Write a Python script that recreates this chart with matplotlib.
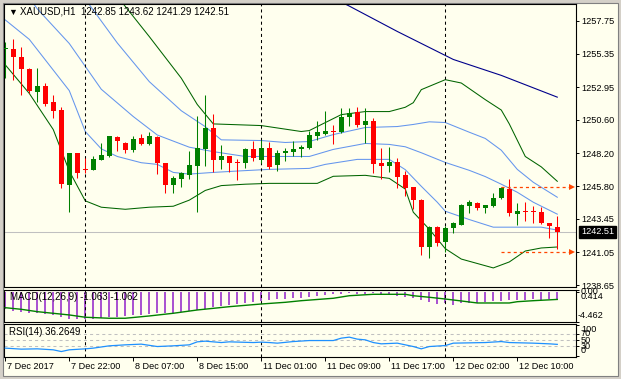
import numpy as np
import matplotlib
matplotlib.use('Agg')
import matplotlib.pyplot as plt
import matplotlib.transforms as mtransforms
from matplotlib.patches import Rectangle

plt.rcParams['font.family'] = ['Liberation Sans', 'DejaVu Sans']
plt.rcParams['lines.scale_dashes'] = False

# ---- XAUUSD H1 candles, 7 Dec 14:00 .. 12 Dec 15:00 (70 bars) ----
opens = [1255.68, 1255.71, 1255.16, 1254.27, 1252.57, 1253.05, 1251.90, 1251.33, 1245.89, 1248.17,
         1247.01, 1246.97, 1247.69, 1247.98, 1249.34, 1248.89, 1248.41, 1249.25, 1248.82, 1249.34,
         1247.45, 1245.89, 1246.30, 1246.61, 1247.26, 1248.51, 1249.97, 1247.69, 1247.98, 1247.52,
         1247.45, 1248.46, 1247.69, 1248.53, 1247.31, 1248.17, 1248.26, 1248.46, 1248.58, 1249.46,
         1249.60, 1249.79, 1249.70, 1250.81, 1251.16, 1250.25, 1250.54, 1247.45, 1247.26, 1247.54,
         1246.59, 1245.75, 1244.81, 1241.44, 1242.87, 1241.80, 1242.76, 1243.02, 1244.38, 1244.58,
         1244.22, 1244.38, 1244.93, 1245.58, 1243.79, 1244.03, 1243.99, 1243.98, 1243.14, 1242.85]
highs = [1256.21, 1256.43, 1255.83, 1254.33, 1254.33, 1253.25, 1252.41, 1251.49, 1248.20, 1248.20,
         1247.86, 1248.00, 1248.89, 1249.45, 1249.40, 1248.98, 1249.41, 1249.58, 1249.70, 1249.40,
         1247.50, 1246.54, 1246.80, 1248.33, 1250.90, 1252.35, 1251.04, 1248.81, 1248.00, 1247.74,
         1248.58, 1249.05, 1249.17, 1248.98, 1248.41, 1248.58, 1249.05, 1248.81, 1249.77, 1250.54,
         1251.21, 1250.25, 1251.45, 1251.45, 1251.52, 1251.45, 1250.73, 1248.58, 1248.65, 1247.86,
         1246.90, 1245.78, 1244.85, 1242.90, 1242.90, 1242.95, 1243.19, 1244.50, 1244.81, 1244.63,
         1244.47, 1245.35, 1245.75, 1246.30, 1244.57, 1244.67, 1244.38, 1244.27, 1243.15, 1243.62]
lows = [1253.63, 1253.49, 1252.41, 1252.53, 1251.85, 1251.62, 1250.73, 1245.70, 1243.91, 1246.37,
        1246.78, 1246.97, 1247.69, 1247.90, 1248.33, 1248.22, 1248.26, 1248.76, 1248.76, 1246.66,
        1245.35, 1245.35, 1245.78, 1246.30, 1243.91, 1247.26, 1246.83, 1247.02, 1246.83, 1246.25,
        1247.14, 1247.62, 1247.50, 1247.07, 1246.90, 1247.62, 1248.02, 1247.93, 1248.51, 1249.12,
        1249.53, 1248.82, 1249.66, 1250.13, 1250.06, 1248.89, 1246.78, 1246.35, 1246.83, 1245.70,
        1245.10, 1244.15, 1240.84, 1240.63, 1241.51, 1241.08, 1242.42, 1243.00, 1243.86, 1244.07,
        1243.86, 1244.30, 1244.90, 1243.62, 1243.02, 1243.26, 1243.14, 1243.10, 1242.06, 1241.29]
closes = [1255.75, 1255.12, 1254.25, 1252.64, 1253.05, 1251.76, 1251.21, 1245.99, 1248.17, 1246.73,
          1246.97, 1247.74, 1248.05, 1249.41, 1249.05, 1248.41, 1249.22, 1248.82, 1249.41, 1247.45,
          1245.89, 1246.37, 1246.78, 1247.31, 1248.53, 1249.97, 1247.69, 1247.98, 1247.45, 1247.48,
          1248.46, 1247.81, 1248.53, 1247.21, 1248.22, 1248.33, 1248.51, 1248.60, 1249.53, 1249.70,
          1249.77, 1249.75, 1250.81, 1251.09, 1250.25, 1250.54, 1247.43, 1247.26, 1247.54, 1246.49,
          1245.70, 1244.79, 1241.44, 1242.87, 1241.68, 1242.78, 1243.12, 1244.45, 1244.63, 1244.22,
          1244.45, 1244.93, 1245.70, 1243.86, 1244.02, 1243.98, 1243.96, 1243.12, 1242.95, 1242.51]

# indicator lines: (bar, value)
bb_lower_bars = [0, 3, 8, 10, 12, 14, 17, 19, 21, 23, 26, 29, 33, 38, 40, 44, 48, 50, 52, 54, 55, 58, 61, 64, 67, 69]
bb_lower_vals = [1257.80, 1256.40, 1252.70, 1249.75, 1248.50, 1247.95, 1247.50, 1247.38, 1246.80, 1246.68,
                 1246.80, 1246.90, 1247.02, 1247.09, 1247.38, 1247.74, 1247.74, 1247.00, 1245.80, 1244.65,
                 1244.00, 1243.40, 1242.85, 1242.85, 1242.85, 1242.64]
bb_mid_bars = [3, 4, 8, 12, 16, 19, 23, 26, 30, 35, 38, 41, 45, 48, 50, 52, 55, 58, 60, 62, 64, 66, 69]
bb_mid_vals = [1259.40, 1258.60, 1256.10, 1252.80, 1250.83, 1249.50, 1248.62, 1248.30, 1247.95, 1247.95,
               1247.95, 1248.46, 1248.89, 1248.82, 1248.65, 1248.22, 1247.52, 1246.95, 1246.50, 1245.95,
               1245.37, 1244.65, 1243.79]
bb_upper_bars = [10, 14, 18, 22, 25, 27, 32, 35, 38, 41, 45, 49, 51, 53, 55, 58, 60, 62, 64, 66, 69]
bb_upper_vals = [1259.30, 1256.14, 1253.35, 1251.25, 1250.10, 1249.15, 1249.10, 1248.96, 1249.03, 1249.53,
                 1250.04, 1250.11, 1250.26, 1250.45, 1250.40, 1249.70, 1249.25, 1248.40, 1247.02, 1246.09,
                 1245.01]
env_upper_bars = [14, 18, 22, 24, 26, 32, 37, 38, 42, 45, 48, 50, 51, 52, 55, 57, 60, 62, 63, 65, 67, 69]
env_upper_vals = [1259.50, 1256.60, 1253.60, 1251.70, 1250.30, 1250.18, 1249.75, 1249.82, 1250.97, 1251.19,
                  1251.19, 1251.50, 1251.83, 1252.77, 1253.49, 1253.25, 1252.05, 1251.30, 1250.30, 1247.95,
                  1247.20, 1246.16]
env_lower_bars = [0, 3, 6, 8, 10, 12, 15, 18, 21, 23, 25, 27, 30, 33, 39, 41, 45, 48, 50, 51, 53, 55, 57,
                  61, 63, 65, 67, 69]
env_lower_vals = [1254.56, 1252.50, 1249.89, 1246.90, 1244.75, 1244.29, 1244.14, 1244.29, 1244.36, 1244.80,
                  1245.50, 1245.85, 1245.95, 1246.01, 1246.01, 1246.52, 1246.59, 1246.37, 1245.60, 1243.93,
                  1242.70, 1241.30, 1240.55, 1239.91, 1240.34, 1241.13, 1241.35, 1241.42]
ma_slow_bars = [40, 43, 49, 56, 62, 69]
ma_slow_vals = [1259.67, 1258.80, 1256.97, 1254.95, 1253.80, 1252.23]

level_prices = [1245.75, 1241.08]
level_start = 62

macd_hist = [-2.52, -2.72, -2.87, -3.02, -3.12, -3.27, -3.42, -3.61, -3.91, -4.01,
             -4.01, -3.96, -3.86, -3.71, -3.61, -3.51, -3.42, -3.32, -3.22, -3.12,
             -3.12, -3.02, -2.92, -2.77, -2.62, -2.43, -2.23, -2.03, -1.88, -1.73,
             -1.53, -1.39, -1.24, -1.14, -1.04, -0.99, -0.89, -0.79, -0.64, -0.50,
             -0.40, -0.30, -0.20, -0.10, -0.25, -0.25, -0.15, -0.40, -0.45, -0.54,
             -0.64, -0.89, -1.14, -1.49, -1.73, -1.53, -1.88, -1.63, -1.53, -1.63,
             -1.44, -1.34, -1.24, -1.19, -1.14, -1.14, -1.04, -1.14, -1.04, -1.063]
macd_sig_bars = [0, 2, 4, 8, 10, 13, 15, 18, 21, 24, 28, 32, 35, 37, 41, 43, 46, 50, 51, 53, 55, 57, 59,
                 63, 64, 66, 69]
macd_sig_vals = [-2.29, -2.53, -2.88, -3.37, -3.71, -3.86, -3.86, -3.52, -3.12, -2.63, -2.14, -1.74, -1.49,
                 -1.25, -0.89, -0.51, -0.30, -0.30, -0.51, -0.74, -1.00, -1.29, -1.59, -1.59, -1.40, -1.25,
                 -1.062]

rsi_bars = [0, 2, 4, 6, 7, 8, 10, 11, 13, 15, 17, 19, 21, 23, 24, 25, 27, 28, 31, 32, 33, 34, 36, 38, 41,
            42, 43, 44, 45, 46, 47, 49, 50, 51, 52, 53, 55, 56, 60, 62, 63, 66, 68, 69]
rsi_vals = [24.0, 20.7, 21.7, 18.5, 12.9, 18.5, 21.7, 24.0, 31.5, 34.7, 37.0, 29.2, 31.5, 34.7, 44.5,
            46.7, 42.2, 44.5, 42.2, 43.5, 42.2, 40.2, 45.4, 48.7, 48.7, 56.5, 59.8, 53.3, 51.0, 42.2,
            38.0, 40.2, 34.7, 29.2, 21.7, 29.2, 32.4, 40.2, 42.2, 45.4, 42.2, 40.2, 38.0, 36.26]
rsi_levels = [70, 50, 30]

price_ticks = [1257.75, 1255.35, 1252.95, 1250.60, 1248.20, 1245.80, 1243.45, 1241.05, 1238.65]
date_ticks = [0, 8, 16, 24, 32, 40, 48, 56, 64]
date_labels = ['7 Dec 2017', '7 Dec 22:00', '8 Dec 07:00', '8 Dec 15:00', '11 Dec 01:00',
               '11 Dec 09:00', '11 Dec 17:00', '12 Dec 02:00', '12 Dec 10:00']
day_breaks = [10, 32, 55]

# ---- colours ----
CREAM = '#FFFFEE'
BULL = '#008000'
BEAR = '#FF0000'
BAND_BLUE = '#6495ED'
BAND_GREEN = '#006400'
NAVY = '#00008B'
ARROW = '#FF4500'
PURPLE = '#9932CC'
RSI_BLUE = '#1E90FF'
FS = 6.6

W, H = 621, 379
fig = plt.figure(figsize=(W / 100, H / 100), dpi=100, facecolor='#D4D0C8')
frame = Rectangle((3 / W, 3 / H), (W - 6) / W, (H - 6) / H, transform=fig.transFigure,
                  facecolor=CREAM, edgecolor='#808080', lw=0.8, zorder=-10)
fig.patches.append(frame)


def px_axes(x0, y0, x1, y1):
    a = fig.add_axes([x0 / W, 1 - y1 / H, (x1 - x0) / W, (y1 - y0) / H])
    a.set_facecolor(CREAM)
    for s in a.spines.values():
        s.set_color('black')
        s.set_linewidth(0.8)
    a.set_xlim(-0.16, 71.34)
    a.tick_params(axis='y', left=False, labelleft=False, right=True, labelright=True,
                  direction='out', length=2, width=0.7, pad=1.5, labelsize=FS)
    a.tick_params(axis='x', bottom=False, labelbottom=False)
    return a


ax = px_axes(4, 4, 576, 286.5)
axm = px_axes(4, 289.5, 576, 322.3)
axr = px_axes(4, 324.3, 576, 356.7)

dash = (0, (2.2, 2.2))

# ---- main panel ----
ax.set_ylim(1238.57, 1258.95)
ax.set_yticks(price_ticks)
ax.set_yticklabels(['%.2f' % p for p in price_ticks])

ax.axhline(closes[-1], color='#C0C0C0', lw=0.75, zorder=1)

ax.plot(env_upper_bars, env_upper_vals, color=BAND_GREEN, lw=0.75, zorder=2)
ax.plot(env_lower_bars, env_lower_vals, color=BAND_GREEN, lw=0.75, zorder=2)
ax.plot(bb_upper_bars, bb_upper_vals, color=BAND_BLUE, lw=0.75, zorder=2)
ax.plot(bb_mid_bars, bb_mid_vals, color=BAND_BLUE, lw=0.75, zorder=2)
ax.plot(bb_lower_bars, bb_lower_vals, color=BAND_BLUE, lw=0.75, zorder=2)
ax.plot(ma_slow_bars, ma_slow_vals, color=NAVY, lw=0.8, zorder=2)

idx = np.arange(len(opens))
o = np.array(opens)
c = np.array(closes)
cols = np.where(c >= o, BULL, BEAR)
ax.vlines(idx, lows, highs, colors=cols, lw=0.75, zorder=3)
ax.bar(idx, np.maximum(np.abs(c - o), 0.07), bottom=np.minimum(o, c), width=0.625,
       color=cols, lw=0, zorder=4)

for lv in level_prices:
    ax.plot([level_start, 70.8], [lv, lv], color=ARROW, lw=0.9, ls=dash, zorder=5)
    ax.plot([70.8], [lv], marker='>', color=ARROW, ms=4, mew=0, zorder=5)

ax.annotate('%.2f' % closes[-1], xy=(1, closes[-1]), xycoords=('axes fraction', 'data'),
            xytext=(3.6, 0), textcoords='offset points', ha='left', va='center',
            fontsize=FS, color='white',
            bbox=dict(boxstyle='square,pad=0.2', fc='black', ec='black'))

fig.text(8 / W, 1 - 12 / H, '\u25bc', fontsize=6.5, va='center', ha='left')
fig.text(20 / W, 1 - 12 / H, 'XAUUSD,H1  1242.85 1243.62 1241.29 1242.51',
         fontsize=7, va='center', ha='left')

# ---- MACD ----
axm.set_ylim(-4.462, 0.414)
axm.vlines(idx, 0, macd_hist, colors=PURPLE, lw=1.2, zorder=2)
axm.plot(macd_sig_bars, macd_sig_vals, color=BULL, lw=1.0, zorder=3)
axm.set_yticks([0.414, 0.0, -4.462])
axm.set_yticklabels(['', '', ''])
fig.text(581 / W, 1 - 292 / H, '0.00', fontsize=FS, va='center', ha='left')
fig.text(581 / W, 1 - 296.5 / H, '0.414', fontsize=FS, va='center', ha='left')
fig.text(578 / W, 1 - 315 / H, '-4.462', fontsize=FS, va='center', ha='left')
fig.text(10 / W, 1 - 297 / H, 'MACD(12,26,9) -1.063 -1.062', fontsize=7, va='center', ha='left')

# ---- RSI ----
axr.set_ylim(-3.9, 101.6)
for lv in rsi_levels:
    axr.axhline(lv, color='#C0C0C0', lw=0.75, ls=dash, zorder=1)
axr.plot(rsi_bars, rsi_vals, color=RSI_BLUE, lw=0.9, zorder=3)
axr.set_yticks([100, 70, 50, 30, 0])
axr.set_yticklabels(['', '', '', '', ''])
for txt, yp in zip(['100', '70', '50', '30', '0'], [329.5, 334, 340.3, 346.3, 350.5]):
    fig.text(581 / W, 1 - yp / H, txt, fontsize=FS, va='center', ha='left')
fig.text(9 / W, 1 - 332 / H, 'RSI(14) 36.2649', fontsize=7, va='center', ha='left')

axr.set_xticks(date_ticks)
axr.set_xticklabels(date_labels)
axr.tick_params(axis='x', bottom=True, labelbottom=True, direction='out', length=3,
                width=0.7, pad=1, labelsize=FS)
offset = mtransforms.ScaledTranslation(2 / 100, 0, fig.dpi_scale_trans)
for lab in axr.get_xticklabels():
    lab.set_horizontalalignment('left')
    lab.set_transform(lab.get_transform() + offset)

for a in (ax, axm, axr):
    for b in day_breaks:
        a.axvline(b, color='black', lw=0.75, ls=dash, zorder=2.5)

fig.savefig('out.png', dpi=100, facecolor=fig.get_facecolor())
